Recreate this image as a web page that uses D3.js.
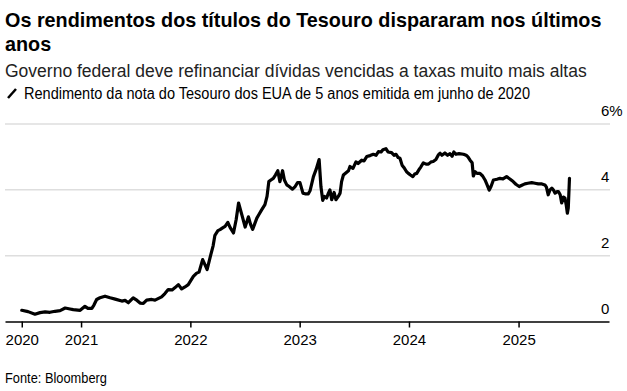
<!DOCTYPE html>
<html>
<head>
<meta charset="utf-8">
<script src="https://cdn.jsdelivr.net/npm/d3@7"></script>
<style>
  html, body { margin: 0; padding: 0; background: #fff; }
  svg { display: block; font-family: "Liberation Sans", Arial, sans-serif; }
</style>
</head>
<body>
<div id="chart"></div>
<script>
// 5-year Treasury note issued June 2020, yield in %
const dates = [
  "2020-06-17","2020-07-08","2020-07-31","2020-08-17","2020-09-03","2020-09-19","2020-10-06","2020-10-23",
  "2020-11-09","2020-11-25","2020-12-06","2020-12-29","2021-01-14","2021-01-24","2021-02-06","2021-02-13",
  "2021-02-22","2021-03-05","2021-03-22","2021-04-08","2021-04-25","2021-05-17","2021-05-28","2021-06-08",
  "2021-06-24","2021-07-07","2021-07-17","2021-07-28","2021-08-08","2021-08-25","2021-09-05","2021-09-27",
  "2021-10-08","2021-10-19","2021-11-01","2021-11-11","2021-11-22","2021-12-03","2021-12-14","2021-12-25",
  "2022-01-11","2022-01-22","2022-01-30","2022-02-11","2022-02-19","2022-02-26","2022-03-08","2022-03-18",
  "2022-03-24","2022-04-03","2022-04-10","2022-04-20","2022-04-27","2022-05-06","2022-05-14","2022-05-25",
  "2022-06-03","2022-06-11","2022-06-22","2022-07-03","2022-07-14","2022-07-21","2022-07-28","2022-08-11",
  "2022-08-18","2022-08-27","2022-09-07","2022-09-14","2022-09-20","2022-09-27","2022-10-05","2022-10-12",
  "2022-10-20","2022-10-27","2022-11-05","2022-11-11","2022-11-19","2022-11-27","2022-12-08","2022-12-17",
  "2022-12-25","2023-01-02","2023-01-12","2023-01-19","2023-01-30","2023-02-05","2023-02-16","2023-02-25",
  "2023-03-07","2023-03-13","2023-03-19","2023-03-25","2023-04-01","2023-04-07","2023-04-12","2023-04-18",
  "2023-04-26","2023-05-02","2023-05-10","2023-05-16","2023-05-21","2023-05-27","2023-06-05","2023-06-13",
  "2023-06-18","2023-06-28","2023-07-08","2023-07-15","2023-07-27","2023-08-04","2023-08-13","2023-08-24",
  "2023-09-04","2023-09-13","2023-09-21","2023-09-30","2023-10-06","2023-10-16","2023-10-23","2023-11-04",
  "2023-11-12","2023-11-19","2023-11-26","2023-12-02","2023-12-09","2023-12-15","2023-12-24","2023-12-30",
  "2024-01-06","2024-01-14","2024-01-20","2024-01-27","2024-02-04","2024-02-10","2024-02-18","2024-02-27",
  "2024-03-06","2024-03-15","2024-03-22","2024-03-31","2024-04-08","2024-04-14","2024-04-20","2024-04-30",
  "2024-05-09","2024-05-17","2024-05-24","2024-05-30","2024-06-06","2024-06-16","2024-07-01","2024-07-10",
  "2024-07-16","2024-07-23","2024-07-30","2024-08-03","2024-08-09","2024-08-15","2024-08-25","2024-09-03",
  "2024-09-11","2024-09-18","2024-09-25","2024-10-01","2024-10-09","2024-10-21","2024-10-31","2024-11-10",
  "2024-11-22","2024-12-03","2024-12-14","2024-12-23","2025-01-03","2025-01-12","2025-01-22","2025-02-01",
  "2025-02-14","2025-02-25","2025-03-08","2025-03-20","2025-03-30","2025-04-04","2025-04-10","2025-04-16",
  "2025-04-22","2025-04-27","2025-05-03","2025-05-10","2025-05-14","2025-05-20","2025-05-25","2025-05-31",
  "2025-06-05","2025-06-09","2025-06-13","2025-06-16","2025-06-20"
];
const yields = [
  0.34,0.30,0.22,0.27,0.29,0.28,0.31,0.33,
  0.41,0.38,0.36,0.34,0.46,0.40,0.40,0.50,
  0.67,0.72,0.77,0.72,0.68,0.62,0.64,0.57,
  0.72,0.64,0.56,0.55,0.65,0.67,0.65,0.75,
  0.85,0.97,0.96,1.03,1.12,0.99,1.05,1.12,
  1.37,1.47,1.50,1.88,1.72,1.58,1.95,2.30,
  2.62,2.76,2.79,2.85,2.89,3.01,2.85,2.69,
  3.10,3.60,3.24,2.87,3.18,2.95,2.80,3.14,
  3.25,3.39,3.55,3.80,4.25,4.30,4.35,4.45,
  4.58,4.25,4.58,4.30,4.15,4.10,4.02,4.10,
  4.22,4.22,3.90,3.88,3.88,3.98,4.40,4.62,
  4.92,4.10,3.68,3.80,3.75,3.90,4.00,3.70,
  3.92,3.70,3.80,3.90,4.25,4.45,4.52,4.58,
  4.71,4.65,4.85,4.80,4.90,4.88,5.01,5.04,
  5.08,5.05,5.16,5.15,5.22,5.25,5.15,5.13,
  5.05,5.08,4.98,4.96,4.75,4.68,4.55,4.50,
  4.45,4.40,4.48,4.50,4.62,4.70,4.82,4.78,
  4.78,4.85,4.86,4.92,5.06,5.11,5.05,5.12,
  5.05,5.10,5.02,5.15,5.08,5.10,5.08,5.05,
  5.00,4.90,4.82,4.42,4.55,4.50,4.50,4.42,
  4.30,4.15,3.99,4.10,4.30,4.32,4.35,4.33,
  4.40,4.33,4.25,4.17,4.10,4.14,4.18,4.20,
  4.22,4.20,4.18,4.18,4.15,4.08,3.85,4.00,
  4.05,4.00,3.90,3.95,3.95,3.85,3.60,3.78,
  3.75,3.55,3.29,3.45,4.35
];
const yTicks = [0, 2, 4, 6];
const xTickDates = ["2020-06-17", "2021-01-01", "2022-01-01", "2023-01-01", "2024-01-01", "2025-01-01"];

const width = 627, height = 391;
const parse = d3.timeParse("%Y-%m-%d");
const data = dates.map((d, i) => ({ date: parse(d), value: yields[i] }));

const svg = d3.select("#chart").append("svg")
    .attr("width", width)
    .attr("height", height);

// titles
svg.append("text")
    .attr("x", 5).attr("y", 27)
    .attr("font-size", 19.8).attr("font-weight", "bold").attr("fill", "#000")
    .text("Os rendimentos dos títulos do Tesouro dispararam nos últimos");
svg.append("text")
    .attr("x", 5).attr("y", 51)
    .attr("font-size", 19.8).attr("font-weight", "bold").attr("fill", "#000")
    .text("anos");
svg.append("text")
    .attr("x", 5).attr("y", 77)
    .attr("font-size", 17.5).attr("fill", "#222")
    .text("Governo federal deve refinanciar dívidas vencidas a taxas muito mais altas");

// legend
svg.append("line")
    .attr("x1", 8).attr("y1", 98).attr("x2", 16).attr("y2", 89)
    .attr("stroke", "#000").attr("stroke-width", 2.5);
svg.append("text")
    .attr("x", 24).attr("y", 99)
    .attr("font-size", 16).attr("fill", "#000")
    .attr("textLength", 506).attr("lengthAdjust", "spacingAndGlyphs")
    .text("Rendimento da nota do Tesouro dos EUA de 5 anos emitida em junho de 2020");

let x = d3.scaleTime()
    .domain([parse("2020-04-22"), parse("2025-10-30")])
    .range([5, 609]);
let y = d3.scaleLinear().domain([0, 6]).range([321.5, 124]);

// gridlines
svg.append("g")
    .selectAll("line").data(yTicks.filter(d => d > 0)).enter()
    .append("line")
        .attr("x1", 5).attr("x2", 610)
        .attr("y1", d => y(d)).attr("y2", d => y(d))
        .attr("stroke", "#dedede").attr("stroke-width", 1.5);

// y labels on the right, above the gridlines
svg.append("g")
    .selectAll("text").data(yTicks).enter()
    .append("text")
        .attr("x", 601)
        .attr("y", d => y(d) - 8)
        .attr("font-size", 15).attr("fill", "#000")
        .text(d => d === 6 ? d + "%" : d);

// x axis
let bottomAxis = d3.axisBottom(x)
    .tickValues(xTickDates.map(parse))
    .tickFormat(d3.timeFormat("%Y"))
    .tickSize(6).tickSizeOuter(0).tickPadding(7);

const gx = svg.append("g")
    .attr("transform", "translate(0," + y(0) + ")")
    .call(bottomAxis);
gx.select(".domain").attr("stroke", "#000").attr("stroke-width", 1.5);
gx.selectAll(".tick line").attr("stroke", "#000").attr("stroke-width", 1.5);
gx.selectAll(".tick text")
    .attr("font-family", "'Liberation Sans', Arial, sans-serif")
    .attr("font-size", 15).attr("fill", "#000");

// the line
const line = d3.line()
    .x(d => x(d.date))
    .y(d => y(d.value));

svg.append("path")
    .datum(data)
    .attr("d", line)
    .attr("fill", "none")
    .attr("stroke", "#000")
    .attr("stroke-width", 3.2)
    .attr("stroke-linejoin", "round")
    .attr("stroke-linecap", "round");

// source
svg.append("text")
    .attr("x", 5).attr("y", 383)
    .attr("font-size", 14).attr("fill", "#000")
    .attr("textLength", 102).attr("lengthAdjust", "spacingAndGlyphs")
    .text("Fonte: Bloomberg");
</script>
</body>
</html>
